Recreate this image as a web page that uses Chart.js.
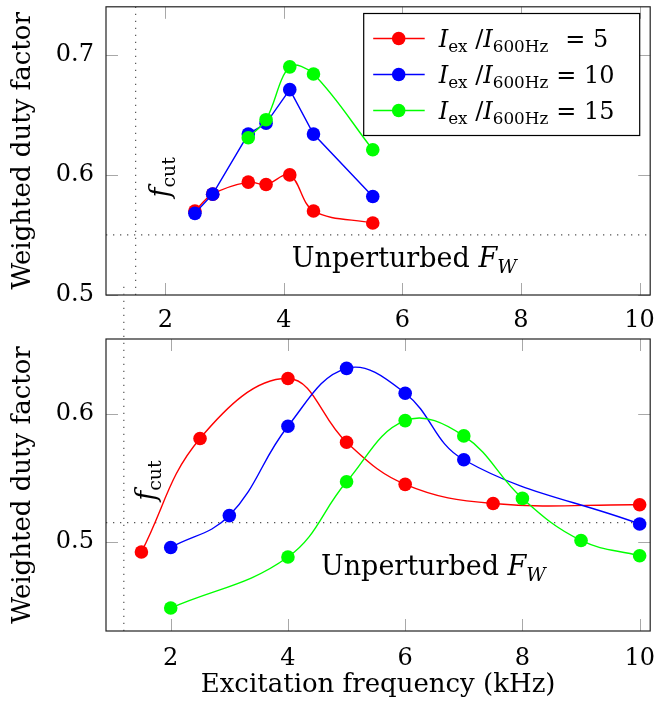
<!DOCTYPE html>
<html lang="en">
<head>
<meta charset="UTF-8">
<title>Weighted duty factor</title>
<script src="https://cdn.jsdelivr.net/npm/chart.js@4.4.1/dist/chart.umd.min.js"></script>
<style>
body{margin:0;background:#fff;}
#wrap{position:relative;width:657px;height:715px;}
#wrap canvas{position:absolute;left:0;}
#top{top:0;}
#bottom{top:280px;}
</style>
</head>
<body>
<div id="wrap">
    <canvas id="top" width="657" height="340"></canvas>
    <canvas id="bottom" width="657" height="435"></canvas>
</div>
<script>
// ratios I_ex / I_600Hz
const ratios = [5, 10, 15];
const colors = ['#ff0000', '#0000ff', '#00ff00'];

// upper panel
const topFreq5  = [2.5, 2.8, 3.4, 3.7, 4.1, 4.5, 5.5];
const topDuty5  = [0.570, 0.584, 0.594, 0.592, 0.600, 0.570, 0.560];
const topFreq10 = [2.5, 2.8, 3.4, 3.7, 4.1, 4.5, 5.5];
const topDuty10 = [0.568, 0.584, 0.634, 0.643, 0.671, 0.634, 0.582];
const topFreq15 = [3.4, 3.7, 4.1, 4.5, 5.5];
const topDuty15 = [0.631, 0.646, 0.690, 0.684, 0.621];

// lower panel
const botFreq5  = [1.5, 2.5, 4, 5, 6, 7.5, 10];
const botDuty5  = [0.492, 0.581, 0.628, 0.578, 0.545, 0.530, 0.529];
const botFreq10 = [2, 3, 4, 5, 6, 7, 10];
const botDuty10 = [0.4955, 0.5205, 0.5906, 0.636, 0.6165, 0.5643, 0.5139];
const botFreq15 = [2, 4, 5, 6, 7, 8, 9, 10];
const botDuty15 = [0.448, 0.488, 0.547, 0.595, 0.583, 0.534, 0.501, 0.489];

// cut-off frequency and unperturbed duty factor
const topCut = 1.5, topUnperturbed = 0.55;
const botCut = 1.2, botUnperturbed = 0.515, botCutTop = 0.70;

// axes
const xTicks = [2, 4, 6, 8, 10];
const topYTicks = [0.5, 0.6, 0.7];
const botYTicks = [0.5, 0.6];
const topX = [1.0, 10.18], topY = [0.5, 0.74];
const botX = [0.896, 10.18], botY = [0.43, 0.659];

const FONT = "'DejaVu Serif', serif";
Chart.defaults.font.family = FONT;
Chart.defaults.color = '#000';

function pts(xs, ys) { return xs.map((x, i) => ({x: x, y: ys[i]})); }

function series(xs, ys, k, tension) {
    return {
        data: pts(xs, ys), ratio: ratios[k],
        borderColor: colors[k], backgroundColor: colors[k],
        borderWidth: 1.4, pointRadius: 6.8, pointHoverRadius: 6.8, pointBorderWidth: 0,
        tension: tension, order: 3 - k
    };
}

function dotted(data, clip) {
    return { data: data, borderColor: '#555', borderWidth: 1.2, borderDash: [1.3, 5.7],
             pointRadius: 0, tension: 0, order: 9, clip: clip ? undefined : false };
}

// math-ish text: parts = [[text, italic, sub]]
function mathWidth(ctx, parts, size) {
    let w = 0;
    parts.forEach(p => {
        ctx.font = (p[1] ? 'italic ' : '') + (p[2] ? size * 0.7 : size) + 'px ' + FONT;
        w += ctx.measureText(p[0]).width;
    });
    return w;
}
function drawMath(ctx, parts, x, y, size) {
    parts.forEach(p => {
        ctx.font = (p[1] ? 'italic ' : '') + (p[2] ? size * 0.7 : size) + 'px ' + FONT;
        ctx.fillText(p[0], x, y + (p[2] ? size * 0.22 : 0));
        x += ctx.measureText(p[0]).width;
    });
    return x;
}

const decor = {
    id: 'decor',
    beforeDatasetsDraw(chart) {
        const {ctx, chartArea: a, scales: {x, y}} = chart;
        ctx.save();
        ctx.strokeStyle = '#a8a8a8';
        ctx.lineWidth = 1;
        ctx.beginPath();
        x.ticks.forEach(t => {
            const p = Math.round(x.getPixelForValue(t.value)) + 0.5;
            ctx.moveTo(p, a.bottom); ctx.lineTo(p, a.bottom - 12);
            ctx.moveTo(p, a.top); ctx.lineTo(p, a.top + 12);
        });
        y.ticks.forEach(t => {
            const p = Math.round(y.getPixelForValue(t.value)) + 0.5;
            ctx.moveTo(a.left, p); ctx.lineTo(a.left + 12, p);
            ctx.moveTo(a.right, p); ctx.lineTo(a.right - 12, p);
        });
        ctx.stroke();
        ctx.restore();
    },
    afterDraw(chart, args, opts) {
        const {ctx, chartArea: a, scales: {x, y}} = chart;
        ctx.save();
        ctx.strokeStyle = '#222';
        ctx.lineWidth = 1.2;
        ctx.strokeRect(a.left, a.top, a.width, a.height);

        ctx.fillStyle = '#000';
        ctx.textBaseline = 'alphabetic';
        ctx.textAlign = 'left';

        // Unperturbed F_W
        const up = [['Unperturbed ', false, false], ['F', true, false], ['W', true, true]];
        const us = 27;
        const uw = mathWidth(ctx, up, us);
        drawMath(ctx, up, x.getPixelForValue(opts.fw[0]) - uw / 2, y.getPixelForValue(opts.fw[1]), us);

        // f_cut, rotated
        const fc = [['f', true, false], ['cut', false, true]];
        const fs = 27;
        const fwid = mathWidth(ctx, fc, fs);
        ctx.save();
        ctx.translate(x.getPixelForValue(opts.fcut[0]), y.getPixelForValue(opts.fcut[1]));
        ctx.rotate(-Math.PI / 2);
        drawMath(ctx, fc, -fwid / 2, fs * 0.3, fs);
        ctx.restore();

        if (opts.legend) {
            const bx = a.right - 10.5, by = a.top + 6.7;
            const bw = 276, bh = 122;
            const L = bx - bw;
            ctx.fillStyle = '#fff';
            ctx.fillRect(L, by, bw, bh);
            ctx.strokeStyle = '#000';
            ctx.lineWidth = 1.2;
            ctx.strokeRect(L, by, bw, bh);
            const items = chart.data.datasets.filter(d => d.ratio !== undefined);
            items.forEach((d, i) => {
                const ry = by + 25 + i * 36;
                ctx.strokeStyle = d.borderColor;
                ctx.lineWidth = 1.4;
                ctx.beginPath();
                ctx.moveTo(L + 9.5, ry); ctx.lineTo(L + 61, ry);
                ctx.stroke();
                ctx.fillStyle = d.backgroundColor;
                ctx.beginPath();
                ctx.arc(L + 35, ry, 6.8, 0, Math.PI * 2);
                ctx.fill();
                ctx.fillStyle = '#000';
                const ls = 24;
                let tx = drawMath(ctx, [['I', true, false], ['ex', false, true], [' /', false, false],
                                        ['I', true, false], ['600Hz', false, true]], L + 75, ry + 8, ls);
                tx += d.ratio < 10 ? 17 : 8;
                drawMath(ctx, [['= ' + d.ratio, false, false]], tx, ry + 8, ls);
            });
        }
        ctx.restore();
    }
};

function scalesFor(xr, yr, yTicks, xHeight, withTitle) {
    const x = {
        type: 'linear', min: xr[0], max: xr[1],
        afterBuildTicks: s => { s.ticks = xTicks.map(v => ({value: v})); },
        afterFit: s => { s.height = xHeight; s.paddingLeft = 0; s.paddingRight = 0; },
        grid: {display: false, drawTicks: false}, border: {display: false},
        ticks: {font: {size: 24}, padding: 11, maxRotation: 0, callback: v => String(v)}
    };
    if (withTitle) {
        x.ticks.padding = 13;
        x.title = {display: true, text: 'Excitation frequency (kHz)', font: {size: 26},
                   padding: {top: 0, bottom: 14}};
    }
    const y = {
        type: 'linear', min: yr[0], max: yr[1],
        afterBuildTicks: s => { s.ticks = yTicks.map(v => ({value: v})); },
        afterFit: s => { s.width = 106; s.paddingTop = 0; s.paddingBottom = 0; },
        grid: {display: false, drawTicks: false}, border: {display: false},
        ticks: {font: {size: 24}, padding: 12, callback: v => String(v)},
        title: {display: true, text: 'Weighted duty factor', font: {size: 26}, padding: {top: 8, bottom: 0}}
    };
    return {x: x, y: y};
}

function baseOptions(padTop, scales, decorOpts) {
    return {
        responsive: false, animation: false,
        layout: {padding: {left: 0, right: 4, top: padTop, bottom: 0}},
        scales: scales,
        plugins: {legend: {display: false}, tooltip: {enabled: false}, decor: decorOpts},
        events: []
    };
}

new Chart(document.getElementById('top'), {
    type: 'line',
    data: {datasets: [
        series(topFreq5, topDuty5, 0, 0.35),
        series(topFreq10, topDuty10, 1, 0),
        series(topFreq15, topDuty15, 2, 0.35),
        dotted([{x: topCut, y: topY[0]}, {x: topCut, y: topY[1]}], true),
        dotted([{x: topX[0], y: topUnperturbed}, {x: topX[1], y: topUnperturbed}], true)
    ]},
    options: baseOptions(4, scalesFor(topX, topY, topYTicks, 45, false),
                         {legend: true, fw: [6.03, 0.5234], fcut: [1.92, 0.598]}),
    plugins: [decor]
});

new Chart(document.getElementById('bottom'), {
    type: 'line',
    data: {datasets: [
        series(botFreq5, botDuty5, 0, 0.4),
        series(botFreq10, botDuty10, 1, 0.4),
        series(botFreq15, botDuty15, 2, 0.4),
        dotted([{x: botCut, y: botY[0]}, {x: botCut, y: botCutTop}], false),
        dotted([{x: botX[0], y: botUnperturbed}, {x: botX[1], y: botUnperturbed}], true)
    ]},
    options: baseOptions(59, scalesFor(botX, botY, botYTicks, 84, true),
                         {legend: false, fw: [6.48, 0.474], fcut: [1.59, 0.548]}),
    plugins: [decor]
});
</script>
</body>
</html>
